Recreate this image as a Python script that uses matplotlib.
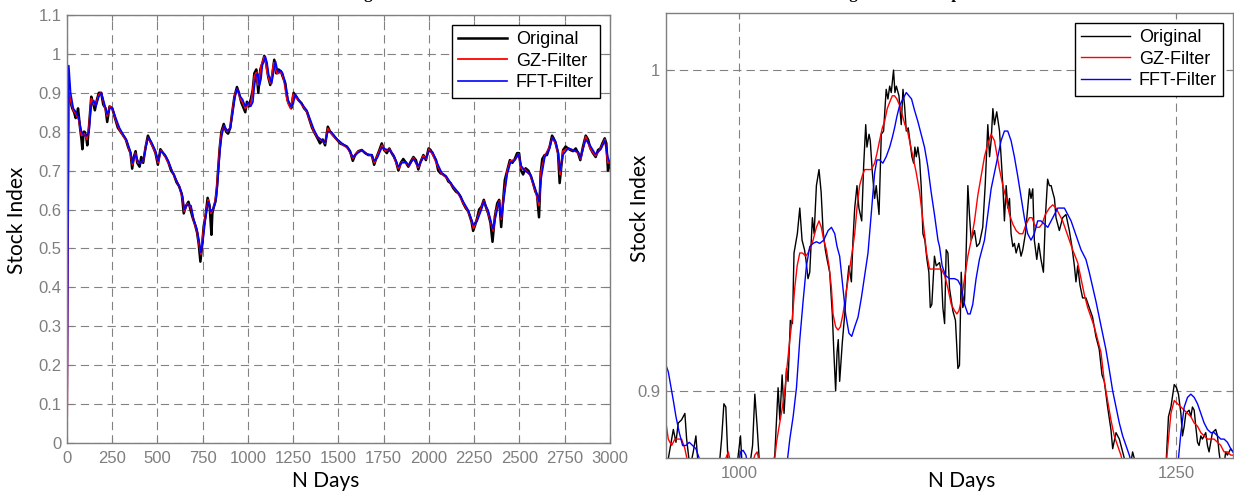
import matplotlib
matplotlib.use("Agg")
import matplotlib.pyplot as plt
from matplotlib.ticker import FormatStrFormatter, MultipleLocator

# ---- full series (left panel) ----
days_full = [
    0, 5, 17, 29, 39, 48, 55, 61, 72, 80, 85, 92, 97, 105, 112, 121, 134, 143, 154, 164,
    176, 189, 200, 213, 222, 235, 250, 265, 281, 296, 311, 325, 338, 351, 360, 369, 379, 388, 401, 410,
    421, 434, 447, 461, 476, 489, 502, 516, 531, 546, 561, 575, 590, 605, 619, 634, 645, 658, 671, 682,
    695, 708, 719, 728, 737, 746, 755, 766, 777, 788, 798, 803, 811, 820, 829, 836, 844, 853, 866, 879,
    890, 902, 912, 925, 939, 950, 963, 976, 985, 994, 1005, 1016, 1026, 1035, 1046, 1057, 1068, 1079, 1090, 1101,
    1112, 1123, 1134, 1145, 1156, 1169, 1182, 1193, 1206, 1219, 1230, 1239, 1252, 1266, 1281, 1296, 1310, 1325, 1340, 1354,
    1369, 1384, 1398, 1413, 1426, 1441, 1454, 1472, 1491, 1509, 1528, 1546, 1564, 1579, 1592, 1610, 1629, 1647, 1665, 1684,
    1697, 1711, 1726, 1739, 1752, 1767, 1781, 1794, 1807, 1818, 1831, 1844, 1858, 1873, 1886, 1899, 1914, 1928, 1941, 1954,
    1969, 1983, 1998, 2009, 2024, 2039, 2051, 2064, 2079, 2094, 2107, 2119, 2134, 2149, 2162, 2175, 2189, 2204, 2217, 2226,
    2235, 2244, 2255, 2266, 2277, 2290, 2303, 2314, 2327, 2340, 2351, 2364, 2377, 2388, 2399, 2410, 2419, 2432, 2447, 2461,
    2474, 2487, 2498, 2509, 2520, 2534, 2549, 2564, 2575, 2588, 2597, 2608, 2617, 2626, 2639, 2652, 2667, 2680, 2689, 2700,
    2713, 2722, 2731, 2741, 2755, 2768, 2781, 2796, 2811, 2824, 2836, 2851, 2866, 2879, 2892, 2906, 2921, 2934, 2947, 2958,
    2971, 2980, 2989, 2998,
]
original_full = [
    0.90, 0.90, 0.88, 0.86, 0.85, 0.835, 0.845, 0.86, 0.81, 0.78, 0.755, 0.80, 0.80, 0.79, 0.765, 0.81, 0.89, 0.875, 0.855, 0.88,
    0.90, 0.90, 0.87, 0.86, 0.825, 0.865, 0.86, 0.835, 0.81, 0.80, 0.79, 0.78, 0.76, 0.745, 0.705, 0.735, 0.75, 0.72, 0.71, 0.735,
    0.72, 0.76, 0.79, 0.775, 0.76, 0.745, 0.715, 0.755, 0.745, 0.735, 0.72, 0.70, 0.69, 0.67, 0.66, 0.64, 0.59, 0.61, 0.62, 0.60,
    0.578, 0.56, 0.54, 0.51, 0.466, 0.505, 0.556, 0.586, 0.63, 0.61, 0.535, 0.59, 0.607, 0.62, 0.66, 0.71, 0.76, 0.80, 0.82, 0.80,
    0.795, 0.81, 0.847, 0.89, 0.915, 0.90, 0.875, 0.86, 0.85, 0.877, 0.865, 0.885, 0.907, 0.95, 0.96, 0.90, 0.96, 0.975, 0.995, 0.975,
    0.94, 0.92, 0.945, 0.985, 0.95, 0.96, 0.955, 0.94, 0.925, 0.88, 0.87, 0.86, 0.90, 0.89, 0.88, 0.873, 0.86, 0.852, 0.83, 0.81,
    0.796, 0.783, 0.77, 0.78, 0.765, 0.813, 0.80, 0.79, 0.78, 0.77, 0.766, 0.762, 0.75, 0.725, 0.74, 0.75, 0.753, 0.745, 0.74, 0.74,
    0.715, 0.735, 0.753, 0.77, 0.753, 0.745, 0.757, 0.745, 0.735, 0.723, 0.70, 0.72, 0.73, 0.72, 0.71, 0.723, 0.735, 0.727, 0.703, 0.723,
    0.74, 0.727, 0.757, 0.753, 0.74, 0.727, 0.70, 0.693, 0.69, 0.685, 0.672, 0.668, 0.655, 0.646, 0.642, 0.633, 0.616, 0.603, 0.595, 0.582,
    0.569, 0.545, 0.56, 0.578, 0.60, 0.607, 0.625, 0.607, 0.59, 0.565, 0.517, 0.582, 0.616, 0.625, 0.555, 0.625, 0.676, 0.70, 0.727, 0.72,
    0.73, 0.745, 0.745, 0.70, 0.69, 0.706, 0.70, 0.685, 0.668, 0.646, 0.638, 0.58, 0.693, 0.73, 0.74, 0.74, 0.762, 0.79, 0.783, 0.77,
    0.745, 0.668, 0.71, 0.753, 0.762, 0.757, 0.753, 0.75, 0.757, 0.745, 0.727, 0.762, 0.79, 0.78, 0.757, 0.745, 0.735, 0.753, 0.757, 0.77,
    0.783, 0.77, 0.70, 0.717,
]

days_smooth = [
    0, 10, 20, 35, 50, 65, 80, 95, 110, 122, 134, 148, 160, 176, 190, 205, 222, 236, 250, 270,
    290, 310, 330, 350, 362, 378, 392, 405, 421, 436, 448, 465, 490, 503, 518, 540, 560, 580, 600, 620,
    640, 648, 665, 685, 700, 718, 730, 740, 750, 765, 780, 795, 812, 825, 836, 845, 855, 868, 885, 902,
    915, 928, 940, 958, 970, 985, 1000, 1015, 1027, 1035, 1045, 1055, 1063, 1072, 1080, 1089, 1096, 1105, 1115, 1124,
    1131, 1142, 1152, 1162, 1172, 1182, 1192, 1202, 1212, 1222, 1235, 1250, 1262, 1282, 1300, 1325, 1345, 1365, 1385, 1410,
    1426, 1441, 1460, 1490, 1520, 1550, 1580, 1605, 1630, 1660, 1685, 1698, 1715, 1740, 1760, 1781, 1805, 1831, 1850, 1873,
    1890, 1914, 1940, 1969, 1985, 2000, 2020, 2045, 2070, 2100, 2130, 2160, 2190, 2215, 2235, 2246, 2266, 2290, 2303, 2327,
    2345, 2355, 2370, 2388, 2400, 2412, 2432, 2450, 2475, 2495, 2510, 2530, 2560, 2590, 2608, 2620, 2640, 2665, 2682, 2700,
    2715, 2724, 2740, 2770, 2800, 2825, 2838, 2866, 2890, 2920, 2950, 2972, 2988, 3000,
]
gz_full = [
    0.0, 0.90, 0.88, 0.855, 0.845, 0.83, 0.79, 0.795, 0.78, 0.815, 0.885, 0.87, 0.87, 0.895, 0.90, 0.87, 0.84, 0.865, 0.86, 0.83,
    0.805, 0.79, 0.775, 0.745, 0.715, 0.745, 0.72, 0.72, 0.725, 0.765, 0.785, 0.77, 0.745, 0.72, 0.752, 0.74, 0.72, 0.70, 0.678, 0.66,
    0.625, 0.595, 0.615, 0.605, 0.572, 0.545, 0.51, 0.485, 0.53, 0.585, 0.625, 0.59, 0.607, 0.64, 0.71, 0.765, 0.80, 0.815, 0.80, 0.81,
    0.855, 0.895, 0.91, 0.885, 0.875, 0.86, 0.868, 0.87, 0.907, 0.942, 0.952, 0.92, 0.937, 0.969, 0.978, 0.992, 0.981, 0.955, 0.937, 0.924,
    0.942, 0.977, 0.96, 0.949, 0.951, 0.956, 0.944, 0.923, 0.891, 0.872, 0.86, 0.896, 0.889, 0.88, 0.868, 0.852, 0.825, 0.80, 0.785, 0.777,
    0.77, 0.808, 0.795, 0.78, 0.768, 0.758, 0.732, 0.748, 0.752, 0.742, 0.738, 0.72, 0.738, 0.765, 0.75, 0.755, 0.738, 0.705, 0.722, 0.72,
    0.712, 0.733, 0.708, 0.738, 0.73, 0.755, 0.742, 0.715, 0.692, 0.68, 0.66, 0.643, 0.616, 0.597, 0.572, 0.552, 0.575, 0.605, 0.622, 0.592,
    0.56, 0.545, 0.595, 0.622, 0.575, 0.63, 0.698, 0.725, 0.728, 0.743, 0.705, 0.703, 0.688, 0.645, 0.61, 0.70, 0.738, 0.76, 0.785, 0.77,
    0.74, 0.69, 0.75, 0.757, 0.752, 0.745, 0.73, 0.787, 0.758, 0.738, 0.758, 0.78, 0.72, 0.72,
]
fft_full = [
    0.0, 0.97, 0.90, 0.86, 0.85, 0.835, 0.80, 0.79, 0.79, 0.80, 0.87, 0.88, 0.865, 0.89, 0.90, 0.875, 0.845, 0.86, 0.862, 0.835,
    0.81, 0.793, 0.778, 0.75, 0.72, 0.742, 0.725, 0.718, 0.727, 0.76, 0.785, 0.775, 0.75, 0.725, 0.75, 0.742, 0.725, 0.70, 0.68, 0.66,
    0.632, 0.60, 0.612, 0.61, 0.575, 0.55, 0.52, 0.49, 0.515, 0.575, 0.62, 0.595, 0.605, 0.63, 0.69, 0.75, 0.79, 0.815, 0.803, 0.808,
    0.845, 0.888, 0.91, 0.89, 0.883, 0.865, 0.875, 0.865, 0.876, 0.915, 0.946, 0.949, 0.918, 0.935, 0.972, 0.982, 0.993, 0.978, 0.945, 0.935,
    0.924, 0.955, 0.981, 0.96, 0.953, 0.957, 0.95, 0.933, 0.906, 0.882, 0.865, 0.872, 0.896, 0.881, 0.87, 0.855, 0.83, 0.805, 0.787, 0.777,
    0.772, 0.80, 0.80, 0.782, 0.77, 0.76, 0.735, 0.745, 0.752, 0.742, 0.74, 0.725, 0.733, 0.76, 0.755, 0.753, 0.74, 0.71, 0.72, 0.722,
    0.713, 0.73, 0.712, 0.733, 0.733, 0.75, 0.748, 0.72, 0.695, 0.682, 0.662, 0.645, 0.62, 0.60, 0.575, 0.56, 0.57, 0.60, 0.62, 0.598,
    0.565, 0.55, 0.585, 0.62, 0.58, 0.62, 0.69, 0.72, 0.727, 0.742, 0.712, 0.70, 0.69, 0.65, 0.62, 0.68, 0.735, 0.755, 0.785, 0.775,
    0.745, 0.70, 0.74, 0.758, 0.752, 0.748, 0.733, 0.78, 0.765, 0.742, 0.755, 0.777, 0.735, 0.72,
]

# ---- zoomed window (right panel) ----
days_zoom_orig = [
    956, 958.7, 962.5, 964.0, 965.3, 967.2, 969.1, 970.1, 972.0, 973.9, 975.4, 976.8, 980, 987, 990.1, 991.4, 992.5, 993.9, 997, 999.6,
    1000.9, 1001.9, 1004, 1007.8, 1009.1, 1010.4, 1011.9, 1016, 1020.5, 1022.4, 1023.4, 1024.7, 1025.8, 1027.2, 1028.1, 1029.4, 1030.6, 1031.5, 1033.4, 1034.8,
    1036.1, 1037.5, 1038.3, 1039.5, 1040.5, 1042.0, 1043.0, 1044.3, 1045.8, 1047.0, 1048.1, 1049.4, 1050.4, 1051.9, 1053.4, 1054.2, 1055.3, 1056.1, 1056.8, 1057.6,
    1059.1, 1060.5, 1061.4, 1062.9, 1064.3, 1065.2, 1066.2, 1067.5, 1068.6, 1070.2, 1071.3, 1072.5, 1073.2, 1074.4, 1075.1, 1076.3, 1077.6, 1078.5, 1080.1, 1081.4,
    1082.7, 1084.2, 1085.2, 1086.2, 1087.1, 1088.4, 1089.2, 1090.0, 1091.5, 1092.8, 1093.8, 1094.7, 1095.7, 1096.8, 1098.0, 1098.9, 1099.9, 1100.6, 1101.4, 1102.3,
    1103.3, 1104.2, 1105.2, 1106.3, 1107.5, 1108.6, 1109.4, 1110.3, 1111.8, 1112.8, 1114.7, 1115.7, 1116.6, 1117.6, 1118.5, 1119.5, 1120.4, 1122.3, 1123.8, 1125.2,
    1126.1, 1127.1, 1128.0, 1129.0, 1129.9, 1130.9, 1131.8, 1132.8, 1134.7, 1136.0, 1137.5, 1139.4, 1140.8, 1142.3, 1143.3, 1144.2, 1145.2, 1146.1, 1147.4, 1149.0,
    1149.9, 1150.9, 1151.8, 1152.8, 1153.7, 1154.7, 1155.6, 1156.6, 1157.5, 1158.5, 1160.0, 1161.3, 1162.3, 1163.8, 1165.1, 1166.1, 1167.0, 1168.0, 1168.9, 1170.3,
    1171.4, 1172.7, 1174.1, 1175.2, 1176.5, 1177.5, 1178.5, 1179.4, 1180.4, 1181.3, 1183.2, 1185.1, 1187.0, 1188.9, 1190.4, 1191.8, 1192.7, 1193.7, 1195.0, 1196.5,
    1198.4, 1200.3, 1202.2, 1204.1, 1206.0, 1207.6, 1208.9, 1210.8, 1212.7, 1213.7, 1215.6, 1217.5, 1219.4, 1221.3, 1223, 1225.1, 1227.0, 1232, 1240, 1244.1,
    1245.6, 1247.0, 1248.9, 1250.2, 1251.3, 1252.7, 1253.6, 1254.6, 1255.5, 1257.4, 1258.4, 1259.3, 1260.3, 1261.2, 1262.2, 1263.1, 1264.1, 1265.0, 1266.9, 1267.9,
    1268.8, 1270.7, 1272.6, 1273.6, 1274.5, 1275.5, 1277.4, 1278.3, 1279.3, 1281.2, 1282.5, 1284,
]
original_zoom = [
    0.875, 0.876, 0.888, 0.884, 0.890, 0.891, 0.893, 0.885, 0.876, 0.881, 0.886, 0.876, 0.865, 0.866, 0.885, 0.896, 0.895, 0.876, 0.868, 0.880,
    0.886, 0.876, 0.868, 0.883, 0.899, 0.889, 0.876, 0.866, 0.880, 0.901, 0.891, 0.905, 0.893, 0.907, 0.903, 0.922, 0.921, 0.943, 0.949, 0.957,
    0.947, 0.944, 0.941, 0.935, 0.937, 0.954, 0.949, 0.964, 0.969, 0.962, 0.950, 0.944, 0.941, 0.937, 0.924, 0.913, 0.900, 0.912, 0.916, 0.903,
    0.915, 0.924, 0.931, 0.939, 0.934, 0.947, 0.957, 0.964, 0.957, 0.953, 0.970, 0.983, 0.976, 0.980, 0.978, 0.968, 0.960, 0.964, 0.955, 0.980,
    0.981, 0.994, 0.991, 0.995, 0.993, 1.000, 0.993, 0.995, 0.992, 0.983, 0.994, 0.989, 0.981, 0.982, 0.977, 0.973, 0.971, 0.976, 0.973, 0.976,
    0.972, 0.964, 0.949, 0.947, 0.941, 0.937, 0.926, 0.927, 0.942, 0.939, 0.940, 0.937, 0.926, 0.921, 0.944, 0.943, 0.932, 0.925, 0.922, 0.907,
    0.908, 0.937, 0.926, 0.928, 0.943, 0.964, 0.955, 0.947, 0.950, 0.945, 0.946, 0.951, 0.964, 0.983, 0.973, 0.978, 0.988, 0.983, 0.987, 0.981,
    0.973, 0.964, 0.953, 0.964, 0.957, 0.960, 0.949, 0.945, 0.946, 0.943, 0.946, 0.942, 0.944, 0.949, 0.957, 0.963, 0.960, 0.963, 0.947, 0.941,
    0.946, 0.941, 0.937, 0.954, 0.966, 0.964, 0.964, 0.962, 0.960, 0.954, 0.950, 0.954, 0.955, 0.950, 0.945, 0.939, 0.934, 0.939, 0.933, 0.929,
    0.929, 0.926, 0.923, 0.917, 0.913, 0.905, 0.903, 0.895, 0.888, 0.882, 0.887, 0.885, 0.881, 0.877, 0.874, 0.881, 0.877, 0.862, 0.862, 0.876,
    0.892, 0.895, 0.902, 0.901, 0.899, 0.893, 0.886, 0.889, 0.893, 0.894, 0.892, 0.895, 0.894, 0.889, 0.884, 0.883, 0.886, 0.885, 0.887, 0.883,
    0.881, 0.887, 0.888, 0.886, 0.881, 0.877, 0.877, 0.881, 0.880, 0.882, 0.881, 0.880,
]

days_zoom_gz = [
    956, 958.3, 959.6, 961.5, 963.4, 965.3, 967.2, 969.1, 971.0, 974.8, 983, 990, 992.5, 993.9, 995.5, 1000, 1006, 1009.1, 1010.4, 1012,
    1016, 1019.9, 1021.5, 1023.0, 1024.9, 1026.2, 1027.6, 1029.1, 1030.6, 1031.9, 1033.3, 1034.8, 1036.3, 1038.2, 1039.5, 1042.4, 1044.3, 1045.8, 1047.1, 1048.5,
    1050.0, 1051.5, 1052.9, 1053.8, 1055.3, 1056.7, 1058.0, 1059.5, 1061.4, 1063.3, 1065.2, 1066.2, 1067.5, 1069.0, 1070.5, 1071.9, 1073.8, 1075.7, 1077.6, 1078.9,
    1080.4, 1082.0, 1083.3, 1084.8, 1086.2, 1087.7, 1089.0, 1090.3, 1091.9, 1093.4, 1094.9, 1096.4, 1097.9, 1099.5, 1101.4, 1103.3, 1104.8, 1106.1, 1107.3, 1109.0,
    1110.9, 1113.8, 1115.7, 1117.6, 1119.5, 1121.4, 1123.3, 1124.6, 1125.8, 1127.1, 1129.0, 1130.9, 1132.8, 1134.7, 1136.6, 1138.5, 1140.4, 1142.3, 1144.2, 1146.1,
    1147.4, 1149.0, 1150.9, 1152.8, 1154.7, 1156.6, 1158.5, 1160.4, 1162.3, 1164.2, 1166.1, 1167.6, 1168.9, 1170.3, 1171.8, 1173.3, 1175.2, 1177.5, 1179.4, 1181.3,
    1183.2, 1185.1, 1187.0, 1188.9, 1190.8, 1193.7, 1195.6, 1197.5, 1199.4, 1201.3, 1203.2, 1205.1, 1207.0, 1208.9, 1210.8, 1212.7, 1214.6, 1216.5, 1218.4, 1219.7,
    1225, 1238, 1244.1, 1245.6, 1247.0, 1248.9, 1250.8, 1252.7, 1254.6, 1256.5, 1258.4, 1260.3, 1262.2, 1264.1, 1266.0, 1267.9, 1269.8, 1271.7, 1273.6, 1275.5,
    1277.4, 1279.3, 1281.2, 1282.5, 1284,
]
gz_zoom = [
    0.892, 0.890, 0.885, 0.883, 0.885, 0.885, 0.885, 0.882, 0.877, 0.872, 0.865, 0.872, 0.879, 0.881, 0.877, 0.870, 0.874, 0.880, 0.881, 0.877,
    0.872, 0.876, 0.884, 0.889, 0.895, 0.900, 0.908, 0.916, 0.923, 0.932, 0.939, 0.943, 0.943, 0.942, 0.943, 0.947, 0.951, 0.953, 0.951, 0.947,
    0.944, 0.939, 0.932, 0.924, 0.920, 0.919, 0.920, 0.924, 0.931, 0.938, 0.945, 0.949, 0.957, 0.964, 0.967, 0.969, 0.969, 0.969, 0.971, 0.974,
    0.978, 0.982, 0.984, 0.988, 0.990, 0.992, 0.992, 0.991, 0.989, 0.986, 0.983, 0.981, 0.977, 0.973, 0.968, 0.962, 0.955, 0.949, 0.943, 0.938,
    0.938, 0.938, 0.938, 0.936, 0.932, 0.927, 0.925, 0.924, 0.925, 0.928, 0.935, 0.942, 0.947, 0.953, 0.961, 0.967, 0.973, 0.977, 0.980, 0.978,
    0.974, 0.969, 0.964, 0.960, 0.955, 0.952, 0.950, 0.949, 0.949, 0.952, 0.954, 0.954, 0.952, 0.951, 0.951, 0.952, 0.955, 0.957, 0.958, 0.957,
    0.955, 0.953, 0.950, 0.947, 0.944, 0.940, 0.935, 0.930, 0.926, 0.923, 0.920, 0.916, 0.912, 0.903, 0.897, 0.891, 0.886, 0.883, 0.880, 0.877,
    0.868, 0.862, 0.876, 0.885, 0.893, 0.897, 0.896, 0.895, 0.894, 0.893, 0.892, 0.890, 0.889, 0.887, 0.886, 0.885, 0.885, 0.885, 0.884, 0.883,
    0.881, 0.881, 0.880, 0.880, 0.879,
]

days_zoom_fft = [
    956, 958.3, 959.6, 960.9, 962.5, 964.0, 965.9, 967.8, 969.7, 971.6, 973.5, 975.4, 977.3, 979.2, 988, 996, 999.6, 1000.9, 1002.4, 1004.0,
    1005.3, 1012, 1022, 1027.2, 1029.1, 1031.0, 1032.9, 1034.8, 1036.7, 1038.6, 1040.5, 1042.4, 1044.3, 1046.2, 1048.5, 1051.0, 1052.9, 1054.8, 1056.1, 1057.6,
    1059.1, 1061.0, 1062.9, 1064.5, 1066.2, 1068.1, 1070.0, 1071.9, 1073.8, 1074.7, 1076.3, 1077.6, 1078.9, 1080.4, 1082.3, 1084.2, 1086.2, 1087.7, 1089.0, 1090.3,
    1091.9, 1093.8, 1095.7, 1097.2, 1098.7, 1100.4, 1102.3, 1104.2, 1106.1, 1108.0, 1109.9, 1111.8, 1113.8, 1114.7, 1116.2, 1118.1, 1120.4, 1123.3, 1125.2, 1127.1,
    1129.0, 1130.9, 1132.2, 1133.7, 1135.6, 1137.5, 1139.4, 1140.4, 1142.3, 1144.2, 1146.1, 1148.0, 1149.9, 1151.8, 1153.7, 1155.6, 1157.5, 1159.4, 1161.3, 1163.2,
    1165.1, 1167.0, 1168.9, 1170.8, 1172.7, 1174.6, 1176.6, 1178.5, 1180.4, 1182.3, 1184.2, 1186.1, 1188.0, 1189.9, 1191.8, 1193.7, 1195.6, 1198.4, 1200.3, 1202.2,
    1204.1, 1206.0, 1207.9, 1209.8, 1211.8, 1213.7, 1215.6, 1217.5, 1219.4, 1221.3, 1223.2, 1225.1, 1235, 1248, 1250.8, 1252.7, 1254.6, 1256.5, 1258.4, 1260.3,
    1262.2, 1264.1, 1266.0, 1267.9, 1269.8, 1271.7, 1273.6, 1275.5, 1277.4, 1279.3, 1281.2, 1282.5, 1284,
]
fft_zoom = [
    0.909, 0.908, 0.906, 0.902, 0.897, 0.892, 0.887, 0.883, 0.883, 0.884, 0.883, 0.882, 0.879, 0.877, 0.868, 0.872, 0.876, 0.881, 0.8815, 0.880,
    0.876, 0.866, 0.866, 0.876, 0.885, 0.892, 0.901, 0.916, 0.928, 0.939, 0.945, 0.946, 0.9465, 0.946, 0.947, 0.950, 0.951, 0.949, 0.945, 0.942,
    0.934, 0.924, 0.918, 0.917, 0.920, 0.923, 0.929, 0.936, 0.943, 0.949, 0.960, 0.968, 0.972, 0.972, 0.971, 0.973, 0.976, 0.979, 0.982, 0.9855,
    0.989, 0.991, 0.993, 0.992, 0.991, 0.9875, 0.984, 0.980, 0.976, 0.970, 0.962, 0.955, 0.947, 0.945, 0.939, 0.936, 0.935, 0.935, 0.9345, 0.9325,
    0.927, 0.924, 0.924, 0.927, 0.935, 0.941, 0.945, 0.947, 0.955, 0.963, 0.968, 0.973, 0.978, 0.981, 0.981, 0.978, 0.973, 0.967, 0.9605, 0.954,
    0.949, 0.947, 0.949, 0.953, 0.953, 0.952, 0.951, 0.953, 0.955, 0.957, 0.957, 0.957, 0.955, 0.953, 0.950, 0.947, 0.944, 0.941, 0.937, 0.9325,
    0.928, 0.923, 0.918, 0.913, 0.9065, 0.900, 0.895, 0.890, 0.886, 0.883, 0.880, 0.876, 0.865, 0.866, 0.876, 0.887, 0.895, 0.898, 0.899, 0.898,
    0.896, 0.893, 0.890, 0.888, 0.887, 0.887, 0.886, 0.885, 0.885, 0.884, 0.882, 0.881, 0.880,
]

TICK_GRAY = "#7f7f7f"
GRID_GRAY = "#828282"


def style_axes(ax):
    for spine in ax.spines.values():
        spine.set_color(TICK_GRAY)
        spine.set_linewidth(1.0)
    ax.grid(True, color=GRID_GRAY, linewidth=0.8, linestyle=(0, (7.5, 4.5)))
    ax.tick_params(direction="in", length=4, width=0.8, color=TICK_GRAY,
                   labelcolor=TICK_GRAY, labelsize=12, top=True, right=True)
    ax.tick_params(axis="x", pad=6)
    ax.tick_params(axis="y", pad=4)
    for label in ax.get_xticklabels() + ax.get_yticklabels():
        label.set_fontfamily("Liberation Sans")
    ax.set_xlabel("N Days", fontsize=15, family="Lato")
    ax.set_ylabel("Stock Index", fontsize=15, family="Lato")


def add_legend(ax):
    leg = ax.legend(loc="upper right", fancybox=False, edgecolor="black", framealpha=1,
                    prop={"family": "Liberation Sans", "size": 13}, handlelength=2.7,
                    handletextpad=0.5, labelspacing=0.25, borderpad=0.35, borderaxespad=0.55)
    leg.get_frame().set_linewidth(1.0)
    return leg


def main():
    fig = plt.figure(figsize=(12.34, 4.96), dpi=100)

    ax1 = fig.add_axes([0.0543, 0.1069, 0.4400, 0.8629])
    ax1.plot(days_full, original_full, color="black", lw=1.8, label="Original")
    ax1.plot(days_smooth, gz_full, color="red", lw=1.3, label="GZ-Filter")
    ax1.plot(days_smooth, fft_full, color="blue", lw=1.2, label="FFT-Filter")
    ax1.set_xlim(0, 3000)
    ax1.set_ylim(0, 1.1)
    ax1.xaxis.set_major_locator(MultipleLocator(250))
    ax1.yaxis.set_major_locator(MultipleLocator(0.1))
    ax1.yaxis.set_major_formatter(FormatStrFormatter("%g"))
    style_axes(ax1)
    ax1.xaxis.set_label_coords(0.477, -0.066)
    ax1.yaxis.set_label_coords(-0.074, 0.52)
    add_legend(ax1)

    ax2 = fig.add_axes([0.5397, 0.0766, 0.4595, 0.8972])
    ax2.plot(days_zoom_orig, original_zoom, color="black", lw=1.0, label="Original")
    ax2.plot(days_zoom_gz, gz_zoom, color="red", lw=1.0, label="GZ-Filter")
    ax2.plot(days_zoom_fft, fft_zoom, color="blue", lw=1.0, label="FFT-Filter")
    ax2.set_xlim(958.3, 1282.5)
    ax2.set_ylim(0.8791, 1.0178)
    ax2.set_xticks([1000, 1250])
    ax2.set_yticks([0.9, 1.0])
    ax2.yaxis.set_major_formatter(FormatStrFormatter("%g"))
    style_axes(ax2)
    ax2.xaxis.set_label_coords(0.522, -0.03)
    ax2.yaxis.set_label_coords(-0.028, 0.56)
    add_legend(ax2)

    # titles sit mostly above the canvas, only descenders show
    fig.text(325 / 1234, 1.004, "Stock Index Filtering Results", ha="center", va="baseline",
             family="Liberation Serif", weight="bold", fontsize=12)
    fig.text(900 / 1234, 1.004, "Filtering Results Comparison", ha="center", va="baseline",
             family="Liberation Serif", weight="bold", fontsize=12)

    fig.savefig("out.png", dpi=100)
    plt.close(fig)


if __name__ == "__main__":
    main()
